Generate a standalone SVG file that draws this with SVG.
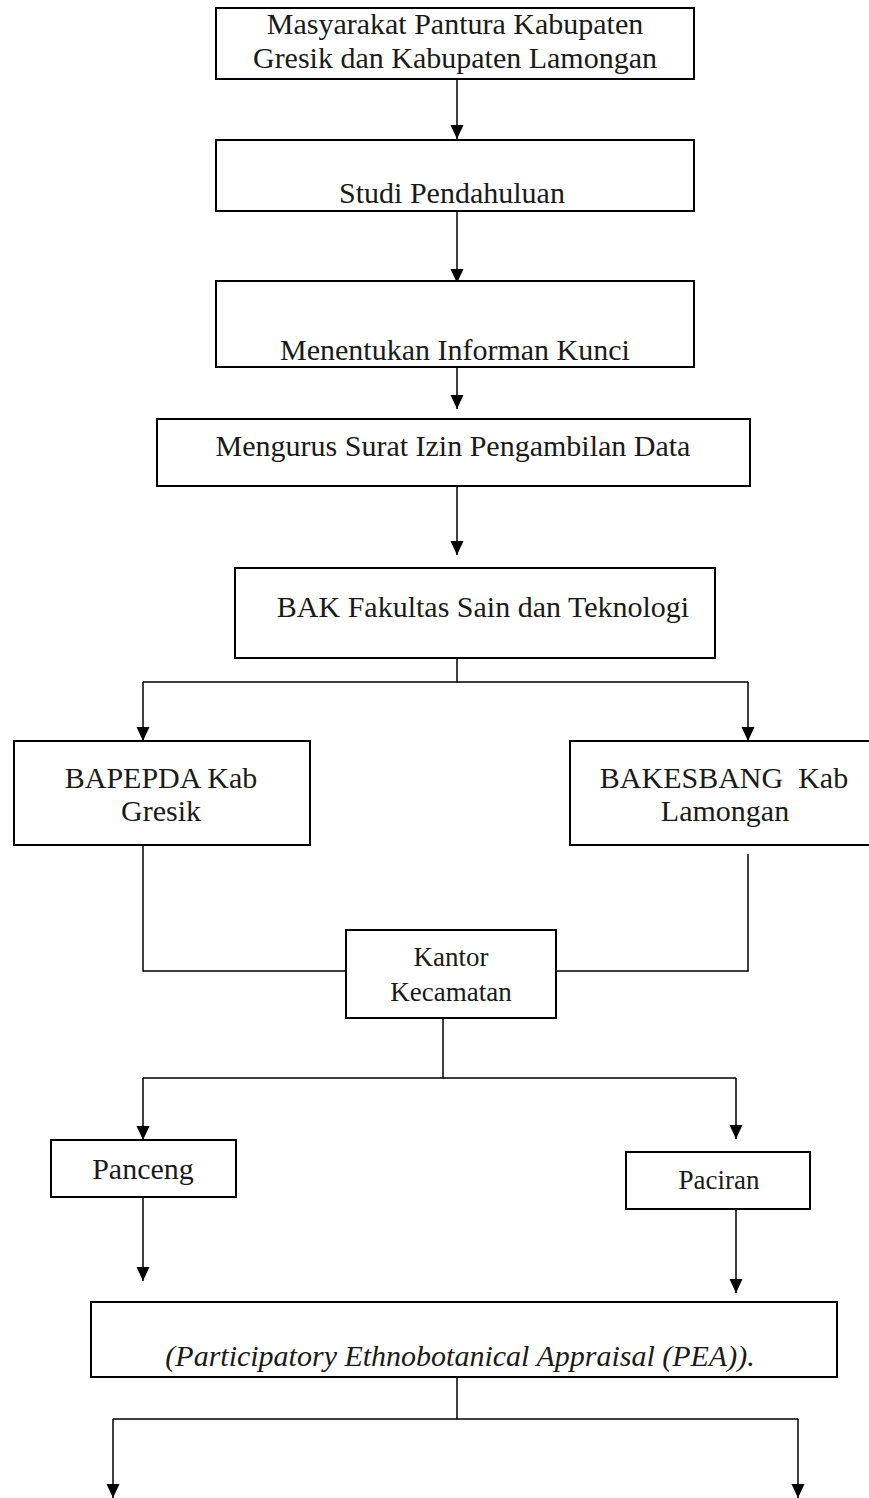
<svg xmlns="http://www.w3.org/2000/svg" width="869" height="1498" viewBox="0 0 869 1498">
<style>
.box{fill:#fff;stroke:#000;stroke-width:2}
.t{font-family:"Liberation Serif","Times New Roman",serif;font-size:30px;fill:#1a1a1a;text-anchor:middle}
.s{font-size:27px}
.it{font-style:italic;font-size:30px}
.c{fill:none;stroke:#000;stroke-width:1.5}
</style>
<defs>
<marker id="ah" viewBox="0 0 14 14" refX="14" refY="7" markerWidth="14" markerHeight="14" markerUnits="userSpaceOnUse" orient="auto">
<path d="M0,0.5 L14,7 L0,13.5 Z" fill="#000"/>
</marker>
</defs>
<rect width="869" height="1498" fill="#fff"/>
<g id="connectors">
<path class="c" d="M457,79 V139" marker-end="url(#ah)"/>
<path class="c" d="M457,211 V283" marker-end="url(#ah)"/>
<path class="c" d="M457,367 V409" marker-end="url(#ah)"/>
<path class="c" d="M457,486 V555" marker-end="url(#ah)"/>
<path class="c" d="M457,658 V682 H143"/>
<path class="c" d="M457,682 H748"/>
<path class="c" d="M143,682 V741" marker-end="url(#ah)"/>
<path class="c" d="M748,682 V741" marker-end="url(#ah)"/>
<path class="c" d="M143,845 V971 H346"/>
<path class="c" d="M748,854 V971 H556"/>
<path class="c" d="M443,1018 V1078 H143"/>
<path class="c" d="M443,1078 H736"/>
<path class="c" d="M143,1078 V1140" marker-end="url(#ah)"/>
<path class="c" d="M736,1078 V1139" marker-end="url(#ah)"/>
<path class="c" d="M143,1197 V1281" marker-end="url(#ah)"/>
<path class="c" d="M736,1209 V1293" marker-end="url(#ah)"/>
<path class="c" d="M457,1377 V1419 H113"/>
<path class="c" d="M457,1419 H798"/>
<path class="c" d="M113,1419 V1498" marker-end="url(#ah)"/>
<path class="c" d="M798,1419 V1498" marker-end="url(#ah)"/>
</g>
<g id="n1"><rect class="box" x="216" y="8" width="478" height="71"/>
<text class="t" x="455" y="34">Masyarakat Pantura Kabupaten</text>
<text class="t" x="455" y="68">Gresik dan Kabupaten Lamongan</text></g>
<g id="n2"><rect class="box" x="216" y="140" width="478" height="71"/>
<text class="t" x="452" y="203">Studi Pendahuluan</text></g>
<g id="n3"><rect class="box" x="216" y="281" width="478" height="86"/>
<text class="t" x="455" y="360">Menentukan Informan Kunci</text></g>
<g id="n4"><rect class="box" x="157" y="419" width="593" height="67"/>
<text class="t" x="453" y="456">Mengurus Surat Izin Pengambilan Data</text></g>
<g id="n5"><rect class="box" x="235" y="568" width="480" height="90"/>
<text class="t" x="483" y="617">BAK Fakultas Sain dan Teknologi</text></g>
<g id="n6"><rect class="box" x="14" y="741" width="296" height="104"/>
<text class="t" x="161" y="788">BAPEPDA Kab</text>
<text class="t" x="161" y="821">Gresik</text></g>
<g id="n7"><rect class="box" x="570" y="741" width="310" height="104"/>
<text class="t" x="724" y="788" xml:space="preserve">BAKESBANG  Kab</text>
<text class="t" x="725" y="821">Lamongan</text></g>
<g id="n8"><rect class="box" x="346" y="930" width="210" height="88"/>
<text class="t s" x="451" y="966">Kantor</text>
<text class="t s" x="451" y="1001">Kecamatan</text></g>
<g id="n9"><rect class="box" x="51" y="1140" width="185" height="57"/>
<text class="t" x="143" y="1179">Panceng</text></g>
<g id="n10"><rect class="box" x="626" y="1152" width="184" height="57"/>
<text class="t s" x="719" y="1189">Paciran</text></g>
<g id="n11"><rect class="box" x="91" y="1302" width="746" height="75"/>
<text class="t it" x="460" y="1366">(Participatory Ethnobotanical Appraisal (PEA)).</text></g>
</svg>
